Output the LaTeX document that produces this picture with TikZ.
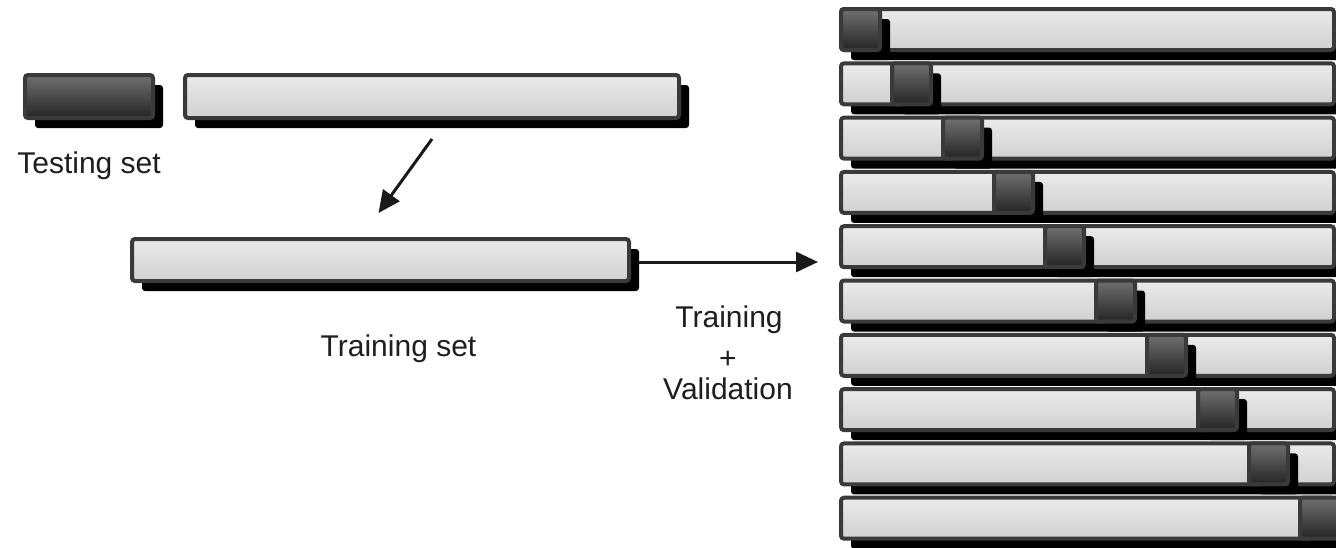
\documentclass[tikz,border=0pt]{standalone}
\usepackage{fontspec}
\setmainfont{Liberation Sans}
\usetikzlibrary{shadows,arrows.meta}
\definecolor{bord}{HTML}{3A3A3A}
\definecolor{ltop}{HTML}{EBEBEB}
\definecolor{lbot}{HTML}{D0D0D0}
\definecolor{dtop}{HTML}{707070}
\definecolor{dbot}{HTML}{242424}
\definecolor{txt}{HTML}{1E1E1E}
\begin{document}
\begin{tikzpicture}[x=1pt,y=-1pt,
  lbox/.style={draw=bord, line width=4pt, rounded corners=3pt, top color=ltop, bottom color=lbot,
    anchor=north west, inner sep=0pt, outer sep=0pt,
    drop shadow={shadow xshift=10pt, shadow yshift=-10pt, opacity=1, fill=black}},
  dbox/.style={lbox, top color=dtop, bottom color=dbot},
  lbl/.style={font=\fontsize{30}{36}\selectfont, text=txt, anchor=base, inner sep=0pt},
  arr/.style={line width=3pt, draw=black!90, -{Triangle[length=22pt,width=20pt]}}]
\useasboundingbox (0,0) rectangle (1336,547);
\clip (0,0) rectangle (1336,547);
% left part
\node[dbox, minimum width=128pt, minimum height=43pt] (testbox) at (25,75) {};
\node[lbox, minimum width=494pt, minimum height=43pt] (trainall) at (185,75) {};
\node[lbox, minimum width=497pt, minimum height=42pt] (trainset) at (132,239) {};
\node[lbl] (ltest) at (89,173) {Testing set};
\node[lbl] (ltrain) at (398.5,356) {Training set};
\node[lbl] (ltv1) at (729,327) {Training};
\node[lbl] (ltv2) at (728,368) {+};
\node[lbl] (ltv3) at (728,399) {Validation};
% arrows
\draw[arr] ([yshift=-21pt]trainall.south) -- ([xshift=-2pt,yshift=26pt]trainset.north);
\coordinate (a2e) at (818,262);
\draw[arr] ([xshift=10pt,yshift=-2pt]trainset.east) -- (a2e);
% folds
\foreach \i in {0,...,9}{
  \pgfmathsetmacro{\yy}{9+54.3*\i}
  \pgfmathsetmacro{\xx}{841+51*\i}
  \node[lbox, minimum width=493pt, minimum height=41pt] (row\i) at (841,\yy) {};
  \node[dbox, minimum width=39pt, minimum height=41pt] (sq\i) at (\xx,\yy) {};
}
\end{tikzpicture}
\end{document}
